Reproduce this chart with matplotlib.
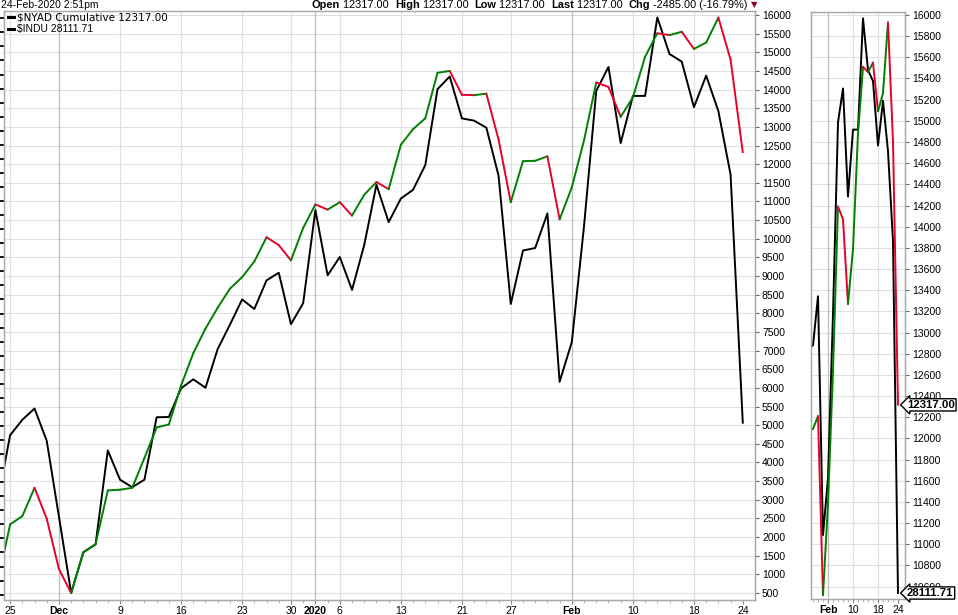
import numpy as np
import matplotlib
matplotlib.use("Agg")
import matplotlib.pyplot as plt
from matplotlib.collections import LineCollection
from matplotlib.lines import Line2D
from matplotlib.transforms import blended_transform_factory

plt.rcParams['font.family'] = ['Liberation Sans', 'DejaVu Sans']

# trading days, 22-Nov-2019 .. 24-Feb-2020 (x = index)
days = ["Nov22", "Nov25", "Nov26", "Nov27", "Nov29",
        "Dec2", "Dec3", "Dec4", "Dec5", "Dec6", "Dec9", "Dec10", "Dec11", "Dec12", "Dec13",
        "Dec16", "Dec17", "Dec18", "Dec19", "Dec20", "Dec23", "Dec24", "Dec26", "Dec27",
        "Dec30", "Dec31", "Jan2", "Jan3", "Jan6", "Jan7", "Jan8", "Jan9", "Jan10",
        "Jan13", "Jan14", "Jan15", "Jan16", "Jan17", "Jan21", "Jan22", "Jan23", "Jan24",
        "Jan27", "Jan28", "Jan29", "Jan30", "Jan31", "Feb3", "Feb4", "Feb5", "Feb6", "Feb7",
        "Feb10", "Feb11", "Feb12", "Feb13", "Feb14", "Feb18", "Feb19", "Feb20", "Feb21", "Feb24"]

nyad = [800, 2340, 2560, 3320, 2490, 1140, 500, 1590, 1810, 3250, 3270, 3320, 4120, 4940,
        5020, 6060, 6930, 7590, 8150, 8660, 8970, 9390, 10040, 9830, 9420, 10290, 10920,
        10780, 10980, 10620, 11180, 11520, 11330, 12520, 12940, 13230, 14450, 14500, 13860,
        13850, 13890, 12660, 10980, 12080, 12090, 12210, 10520, 11380, 12640, 14190, 14070,
        13270, 13790, 14880, 15510, 15460, 15550, 15090, 15260, 15930, 14802, 12317]

indu = [27836, 28067, 28122, 28162, 28047, 27777, 27506, 27651, 27679, 28013, 27909, 27882,
        27909, 28131, 28132, 28234, 28266, 28236, 28374, 28460, 28550, 28516, 28618, 28645,
        28462, 28537, 28868, 28636, 28701, 28584, 28744, 28958, 28825, 28909, 28940, 29028,
        29298, 29343, 29194, 29186, 29161, 28990, 28534, 28724, 28733, 28856, 28257, 28399,
        28811, 29292, 29377, 29106, 29274, 29274, 29553, 29423, 29396, 29234, 29346, 29220,
        28994, 28111.71]

xtick_pos = [1, 5, 10, 15, 20, 24, 26, 28, 33, 38, 42, 47, 52, 57, 61]
xtick_lab = ["25", "Dec", "9", "16", "23", "30", "2020", "6", "13", "21", "27", "Feb", "10", "18", "24"]
month_pos = [5, 26, 47]
zoom_tick_pos = [47, 52, 57, 61]
zoom_tick_lab = ["Feb", "10", "18", "24"]

GREEN = "#008000"
RED = "#e8002e"
GRID = "#e0e0e0"
GRID_DARK = "#bdbdbd"
SPINE = "#a8a8a8"

W, H = 958, 615
fig = plt.figure(figsize=(W / 100, H / 100), dpi=100)


def fx(px):
    return px / W


def fy(py):
    return 1 - py / H


x = np.arange(len(nyad))


def colored_line(axis, xs, ys):
    pts = np.column_stack([xs, ys])
    segs = np.stack([pts[:-1], pts[1:]], axis=1)
    cols = [GREEN if b >= a else RED for a, b in zip(ys[:-1], ys[1:])]
    lc = LineCollection(segs, colors=cols, linewidths=1.4, capstyle="round", joinstyle="round")
    axis.add_collection(lc, autolim=False)


def make_panel(rect, xlim, nyad_lim, indu_lim, ystep, vgrid, ticks, labels, left_ticks):
    ax = fig.add_axes(rect)          # NYAD (right scale)
    axi = ax.twinx()                 # INDU (hidden left scale)
    axi.set_zorder(ax.get_zorder() - 1)
    ax.patch.set_visible(False)
    axi.patch.set_facecolor("white")

    axi.plot(x, indu, color="black", lw=1.4, solid_joinstyle="round")
    colored_line(ax, x, np.array(nyad, dtype=float))

    # grid drawn in the lower axes so the lines sit on top of it
    tr = blended_transform_factory(axi.transAxes, ax.transData)
    yt = np.arange(int(np.ceil(nyad_lim[0] / ystep)) * ystep, nyad_lim[1], ystep)
    for v in yt:
        axi.add_line(Line2D([0, 1], [v, v], color=GRID, lw=0.8, transform=tr, zorder=0))
    for p in vgrid:
        axi.axvline(p, color=GRID_DARK if p in month_pos else GRID, lw=0.9, zorder=0)

    ax.yaxis.tick_right()
    ax.set_yticks(yt)
    ax.set_yticklabels([str(int(v)) for v in yt])
    ax.tick_params(axis="y", length=3, width=0.8, color="#666666", pad=2, labelsize=7.5)

    if left_ticks:
        axi.yaxis.tick_left()
        axi.set_yticks(np.arange(27500, 29600, 50))
        axi.tick_params(axis="y", length=3, width=1.3, color="black", labelleft=False)
    else:
        axi.set_yticks([])

    ax.set_xticks(ticks)
    ax.set_xticklabels(labels)
    for t in ax.get_xticklabels():
        if t.get_text() in ("Dec", "2020", "Feb"):
            t.set_fontweight("bold")
    ax.set_xticks(x, minor=True)
    ax.tick_params(axis="x", which="major", length=3, width=0.8, color="#888888", pad=1, labelsize=7.5)
    ax.tick_params(axis="x", which="minor", length=2, width=0.6, color="#aaaaaa")

    ax.set_xlim(*xlim)
    axi.set_xlim(*xlim)
    ax.set_ylim(*nyad_lim)
    axi.set_ylim(*indu_lim)

    for a in (ax, axi):
        for s in a.spines.values():
            s.set_color(SPINE)
            s.set_linewidth(0.9)
    return ax, axi


# main panel
ax, axi = make_panel([fx(4), fy(600), fx(755) - fx(4), fy(11) - fy(600)],
                     (0.5, 62.0), (312, 16107), (27481, 29576), 500,
                     xtick_pos[:-1], xtick_pos, xtick_lab, True)

# zoomed panel on the right
axz, axzi = make_panel([fx(811), fy(599), fx(905) - fx(811), fy(12) - fy(599)],
                       (43.6, 62.4), (10483, 16028), (28096.6, 29569), 200,
                       zoom_tick_pos[:-1], zoom_tick_pos, zoom_tick_lab, False)

# last-value boxes (both in the top axes so they cover the tick labels)
box = dict(boxstyle="larrow,pad=0.1", fc="white", ec="black", lw=1.0)
axz.annotate("12317.00", xy=(1, nyad[-1]), xycoords=(axz.transAxes, axz.transData),
             xytext=(1.5, 0), textcoords="offset points", ha="left", va="center",
             fontsize=8.2, fontweight="bold", bbox=box, annotation_clip=False, zorder=10)
axz.annotate("28111.71", xy=(1, indu[-1]), xycoords=(axz.transAxes, axzi.transData),
             xytext=(1.5, 0), textcoords="offset points", ha="left", va="center",
             fontsize=8.2, fontweight="bold", bbox=box, annotation_clip=False, zorder=10)

# legend inside the main panel
for py, label, fam in [(17, r"\$NYAD Cumulative 12317.00", "DejaVu Sans"),
                       (29, r"\$INDU 28111.71", "Liberation Sans")]:
    fig.add_artist(Line2D([fx(8), fx(14)], [fy(py), fy(py)], lw=2.2, color="black",
                          transform=fig.transFigure))
    fig.text(fx(17), fy(py), label, fontsize=7.5, family=fam, va="center", ha="left")

# header
fig.text(fx(1), fy(5), "24-Feb-2020 2:51pm", fontsize=7.5, va="center", ha="left")
pieces = [("Open", "bold"), (" 12317.00  ", "normal"), ("High", "bold"), (" 12317.00  ", "normal"),
          ("Low", "bold"), (" 12317.00  ", "normal"), ("Last", "bold"), (" 12317.00  ", "normal"),
          ("Chg", "bold"), (" -2485.00 (-16.79%)", "normal")]
renderer = fig.canvas.get_renderer()
cur = 312
for txt, wt in pieces:
    t = fig.text(fx(cur), fy(5), txt, fontsize=7.9, fontweight=wt, va="center", ha="left")
    cur += t.get_window_extent(renderer).width
fig.text(fx(cur + 3), fy(5), "\u25bc", fontsize=6, color="#8b0026", va="center", ha="left",
         family="DejaVu Sans")

fig.savefig("out.png", dpi=100)
